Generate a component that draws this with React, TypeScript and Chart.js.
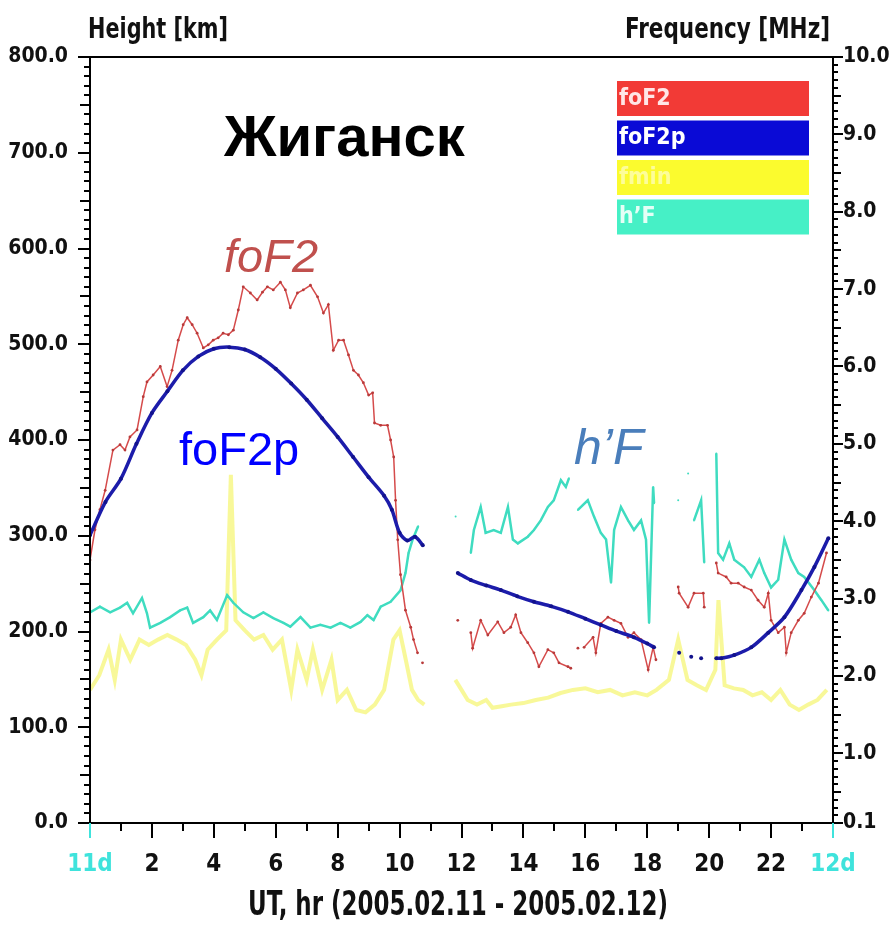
import React, { useEffect, useRef } from 'react';
import { Chart, registerables } from 'chart.js';
Chart.register(...registerables);

// ---------- data ----------
const hourTicks = [0, 2, 4, 6, 8, 10, 12, 14, 16, 18, 20, 22, 24];
const heightTicks = [0, 100, 200, 300, 400, 500, 600, 700, 800];
const freqTicks = [0.1, 1, 2, 3, 4, 5, 6, 7, 8, 9, 10];

const foF2Hours = [
  0, 0.16, 0.32, 0.49, 0.74, 0.97, 1.13, 1.29, 1.52, 1.72, 1.84, 2.04, 2.27, 2.49, 2.65, 2.85, 3.01, 3.14, 3.3, 3.46,
  3.66, 3.82, 3.98, 4.14, 4.3, 4.47, 4.63, 4.79, 4.95, 5.18, 5.4, 5.57, 5.73, 5.92, 6.15, 6.31, 6.47, 6.7, 6.89, 7.12,
  7.35, 7.54, 7.7, 7.86, 8.03, 8.19, 8.35, 8.51, 8.67, 8.83, 9.0, 9.13, 9.19, 9.39, 9.61, 9.71, 9.81, 9.87, 9.94, 10.03,
  10.19, 10.36, 10.45, 10.58, 10.66, 10.74, 11.3,
  11.88, 11.95, 12.3, 12.36, 12.62, 12.85, 13.17, 13.37, 13.59, 13.75, 13.92, 14.14, 14.34, 14.5, 14.79, 14.98, 15.15, 15.44, 15.53,
  15.65, 15.76, 15.86, 15.96, 16.25, 16.34, 16.5, 16.73, 16.93, 17.15, 17.38, 17.57, 17.8, 18.03, 18.19, 18.28, 18.6,
  19.0, 19.03, 19.32, 19.51, 19.81, 19.84, 20.0,
  20.23, 20.29, 20.55, 20.71, 20.94, 21.13, 21.36, 21.58, 21.78, 21.91, 22.0, 22.23, 22.43, 22.49, 22.65, 22.88, 23.07, 23.3, 23.53, 23.79,
];
const foF2Values = [
  3.5, 3.89, 4.15, 4.4, 4.92, 4.99, 4.92, 5.09, 5.18, 5.61, 5.8, 5.89, 6.0, 5.74, 5.95, 6.34, 6.54, 6.63, 6.54, 6.43,
  6.24, 6.28, 6.34, 6.37, 6.43, 6.41, 6.47, 6.73, 7.03, 6.95, 6.86, 6.96, 7.03, 6.99, 7.09, 6.99, 6.76, 6.95, 6.99, 7.05,
  6.9, 6.69, 6.8, 6.21, 6.34, 6.34, 6.15, 5.95, 5.89, 5.79, 5.63, 5.66, 5.27, 5.24, 5.24, 5.05, 4.83, 4.27, 3.76, 3.31,
  2.85, 2.63, 2.47, 2.3, null, 2.17, null,
  2.72, null, 2.56, 2.36, 2.72, 2.53, 2.7, 2.56, 2.63, 2.79, 2.56, 2.43, 2.3, 2.12, 2.34, 2.3, 2.17, 2.12, 2.1,
  null, 2.36, null, 2.37, 2.5, 2.3, 2.68, 2.76, 2.72, 2.68, 2.5, 2.56, 2.47, 2.08, 2.37, 2.21, null,
  3.15, 3.07, 2.89, 3.07, 3.07, 2.89, null,
  3.46, 3.33, 3.28, 3.2, 3.2, 3.15, 3.11, 2.98, 2.89, 3.07, 2.72, 2.56, 2.63, 2.3, 2.56, 2.72, 2.81, 3.02, 3.2, 3.59,
];

const foF2pHours = [
  0, 0.5, 1, 1.5, 2, 2.5, 3, 3.5, 4, 4.5, 5, 5.5, 6, 6.5, 7, 7.5, 8, 8.5, 9, 9.5, 9.75, 10, 10.25, 10.5, 10.75, 11.3,
  11.88, 12.3, 12.8, 13.27, 13.8, 14.34, 14.9, 15.44, 16.0, 16.5, 17.0, 17.57, 18.0, 18.22, 18.6,
  19.03, 19.2, 19.42, 19.6, 19.74, 19.95,
  20.23, 20.39, 20.81, 21.36, 21.91, 22.43, 22.98, 23.4, 23.85,
];
const foF2pValues = [
  3.82, 4.25, 4.55, 5.0, 5.4, 5.68, 5.95, 6.13, 6.23, 6.25, 6.22, 6.12, 5.97, 5.78, 5.57, 5.33, 5.09, 4.83, 4.57, 4.33, 4.15, 3.85, 3.75, 3.8, 3.69, null,
  3.33, 3.24, 3.17, 3.11, 3.03, 2.96, 2.9, 2.83, 2.74, 2.66, 2.58, 2.5, 2.42, 2.37, null,
  2.3, null, 2.25, null, 2.23, null,
  2.23, 2.23, 2.27, 2.37, 2.56, 2.76, 3.11, 3.41, 3.78,
];

const fminHours = [
  0, 0.3, 0.6, 0.8, 1.0, 1.3, 1.6, 1.9, 2.2, 2.5, 2.8, 3.1, 3.4, 3.6, 3.8, 4.1, 4.4, 4.55, 4.7, 5.0, 5.3, 5.6, 5.9, 6.2,
  6.5, 6.7, 7.0, 7.2, 7.5, 7.8, 8.0, 8.3, 8.6, 8.9, 9.2, 9.5, 9.8, 10.0, 10.2, 10.4, 10.6, 10.8, 11.3,
  11.8, 12.0, 12.2, 12.5, 12.8, 13.0, 13.3, 13.6, 14.0, 14.4, 14.8, 15.2, 15.6, 16.0, 16.4, 16.8, 17.2, 17.6, 18.0, 18.3,
  18.7, 19.0, 19.3, 19.6, 19.9, 20.2, 20.3, 20.5, 20.8, 21.1, 21.4, 21.7, 22.0, 22.3, 22.6, 22.9, 23.2, 23.5, 23.8,
];
const fminValues = [
  1.82, 2.01, 2.34, 1.95, 2.47, 2.21, 2.47, 2.4, 2.47, 2.53, 2.47, 2.4, 2.21, 2.01, 2.34, 2.47, 2.59, 4.6, 2.72, 2.59, 2.47, 2.53, 2.34, 2.47,
  1.82, 2.34, 1.95, 2.34, 1.82, 2.21, 1.69, 1.82, 1.56, 1.53, 1.63, 1.82, 2.47, 2.59, 2.21, 1.82, 1.69, 1.63, null,
  1.95, 1.82, 1.69, 1.63, 1.69, 1.59, 1.61, 1.63, 1.65, 1.69, 1.72, 1.78, 1.82, 1.84, 1.79, 1.82, 1.75, 1.79, 1.75, 1.82,
  1.95, 2.47, 1.95, 1.88, 1.82, 2.08, 2.98, 1.88, 1.84, 1.82, 1.75, 1.79, 1.69, 1.82, 1.63, 1.56, 1.63, 1.69, 1.82,
];

const hFHours = [
  0, 0.32, 0.65, 0.97, 1.2, 1.39, 1.68, 1.84, 1.94, 2.27, 2.59, 2.91, 3.14, 3.33, 3.66, 3.88, 4.1, 4.43, 4.63, 4.95,
  5.28, 5.6, 5.92, 6.25, 6.47, 6.8, 7.12, 7.44, 7.77, 8.09, 8.41, 8.74, 8.96, 9.16, 9.39, 9.71, 10.03, 10.19, 10.29, 10.42, 10.6, 11.2,
  11.81, 12.05, 12.3, 12.4, 12.62, 12.78, 13.04, 13.27, 13.5, 13.66, 13.82, 14.14, 14.34, 14.56, 14.79, 14.98, 15.21, 15.37, 15.47, 15.6,
  15.76, 16.08, 16.28, 16.5, 16.67, 16.83, 16.93, 17.15, 17.38, 17.57, 17.8, 17.96, 18.06, 18.19, 18.22, 18.6,
  19.0, 19.15, 19.32, 19.42, 19.51, 19.74, 19.84, 20.0,
  20.23, 20.29, 20.45, 20.65, 20.81, 21.13, 21.36, 21.62, 21.78, 22.0, 22.23, 22.43, 22.65, 22.88, 23.07, 23.4, 23.62, 23.85,
];
const hFValues = [
  220, 226, 220, 225, 230, 219, 235, 219, 204, 209, 215, 222, 225, 209, 215, 222, 212, 238, 230, 220,
  214, 220, 214, 209, 205, 215, 204, 207, 204, 209, 204, 210, 217, 212, 226, 231, 243, 261, 282, 296, 310, null,
  320, null, 282, 306, 330, 303, 306, 303, 330, 296, 292, 299, 306, 316, 330, 337, 358, 351, 360, null,
  327, 337, 320, 303, 296, 251, 306, 330, 316, 306, 316, 296, 209, 351, 334, null,
  337, null, 365, null, 316, 337, 272, null,
  386, 282, 275, 292, 275, 267, 257, 275, 261, 246, 254, 296, 275, 261, 257, 243, 233, 222,
];

// ---------- styles ----------
const NARROW = '"Liberation Sans Narrow", "DejaVu Sans Condensed", "Arial Narrow", sans-serif';
const SANS = '"Liberation Sans", Arial, sans-serif';
const AXIS_CYAN = '#3fe3dc';

const pts = (hs: number[], vs: (number | null)[]) => hs.map((h, i) => ({ x: h, y: vs[i] }));

const framePlugin = {
  id: 'frameTicks',
  afterDraw(chart: any) {
    const { ctx, chartArea } = chart;
    const { left, right, top, bottom } = chartArea;
    const sx = chart.scales.x;
    const sh = chart.scales.yHeight;
    const sf = chart.scales.yFreq;
    ctx.save();
    ctx.strokeStyle = '#000';
    ctx.lineWidth = 2;
    ctx.strokeRect(left, top, right - left, bottom - top);
    for (let v = 0; v <= 800; v += 10) {
      const y = Math.round(sh.getPixelForValue(v));
      const len = v % 100 === 0 ? 12 : v % 50 === 0 ? 10 : 6;
      ctx.beginPath();
      ctx.moveTo(left - len, y);
      ctx.lineTo(left, y);
      ctx.stroke();
    }
    for (let k = 1; k <= 100; k++) {
      const y = Math.round(sf.getPixelForValue(k / 10));
      const len = k % 10 === 0 || k === 1 ? 10 : k % 5 === 0 ? 8 : 5;
      ctx.beginPath();
      ctx.moveTo(right, y);
      ctx.lineTo(right + len, y);
      ctx.stroke();
    }
    for (let h = 0; h <= 24; h++) {
      const x = Math.round(sx.getPixelForValue(h));
      const len = h % 2 === 0 ? 15 : 8;
      ctx.strokeStyle = h === 0 || h === 24 ? AXIS_CYAN : '#000';
      ctx.beginPath();
      ctx.moveTo(x, bottom);
      ctx.lineTo(x, bottom + len);
      ctx.stroke();
    }
    ctx.restore();
  },
};

const legendColors = ['#f23a36', '#0a0ad6', '#fbfb2e', '#46f0c6'];
const legendTextColors = ['#ffe6e6', '#ffffff', '#fdfd9a', '#e4fff6'];

function fitText(ctx: CanvasRenderingContext2D, text: string, x: number, y: number, font: string, width: number, align: CanvasTextAlign) {
  ctx.save();
  ctx.font = font;
  const w = ctx.measureText(text).width;
  const s = w > 0 ? width / w : 1;
  ctx.translate(x, y);
  ctx.scale(s, 1);
  ctx.textAlign = align;
  ctx.textBaseline = 'middle';
  ctx.fillText(text, 0, 0);
  ctx.restore();
}

const textPlugin = {
  id: 'texts',
  afterDraw(chart: any) {
    const { ctx } = chart;
    ctx.save();
    ctx.fillStyle = '#111';
    fitText(ctx, 'Height [km]', 88, 30, `bold 29px ${NARROW}`, 140, 'left');
    fitText(ctx, 'Frequency [MHz]', 830, 30, `bold 29px ${NARROW}`, 205, 'right');
    fitText(ctx, 'UT, hr (2005.02.11 - 2005.02.12)', 458, 906, `bold 33px ${NARROW}`, 420, 'center');
    ctx.textBaseline = 'middle';
    ctx.textAlign = 'left';
    ctx.fillStyle = '#000';
    ctx.font = `bold 58px ${SANS}`;
    ctx.fillText('Жиганск', 224, 140);
    ctx.font = `italic 47px ${SANS}`;
    ctx.fillStyle = '#c0504d';
    ctx.fillText('foF2', 224, 259);
    ctx.font = `47px ${SANS}`;
    ctx.fillStyle = '#0000ff';
    ctx.fillText('foF2p', 179, 452);
    ctx.font = `italic 50px ${SANS}`;
    ctx.fillStyle = '#4a7ebb';
    ctx.fillText('h\u2019F', 574, 450);
    const labels = chart.data.datasets.map((d: any) => d.label);
    ctx.font = `bold 23px ${NARROW}`;
    labels.forEach((lab: string, i: number) => {
      const y0 = 81 + i * 39.5;
      ctx.fillStyle = legendColors[i];
      ctx.fillRect(617, y0, 192, 35);
      ctx.fillStyle = legendTextColors[i];
      ctx.textAlign = 'left';
      ctx.fillText(lab, 619, y0 + 18);
    });
    ctx.restore();
  },
};

export default function App() {
  const ref = useRef<HTMLCanvasElement | null>(null);
  useEffect(() => {
    if (!ref.current) return;
    const chart = new Chart(ref.current, {
      type: 'line',
      data: {
        datasets: [
          {
            label: 'foF2',
            data: pts(foF2Hours, foF2Values),
            yAxisID: 'yFreq',
            borderColor: '#d54b4b',
            backgroundColor: '#b83a3a',
            borderWidth: 1.5,
            pointRadius: 1.4,
            pointBorderWidth: 0,
            spanGaps: false,
            order: 2,
          },
          {
            label: 'foF2p',
            data: pts(foF2pHours, foF2pValues),
            yAxisID: 'yFreq',
            borderColor: '#1c1caa',
            backgroundColor: '#12128c',
            borderWidth: 3.5,
            pointRadius: 2,
            pointBorderWidth: 0,
            tension: 0.3,
            spanGaps: false,
            order: 1,
          },
          {
            label: 'fmin',
            data: pts(fminHours, fminValues),
            yAxisID: 'yFreq',
            borderColor: 'rgba(242,242,70,0.55)',
            backgroundColor: 'rgba(242,242,70,0.55)',
            borderWidth: 4,
            pointRadius: 0,
            spanGaps: false,
            order: 4,
          },
          {
            label: 'h\u2019F',
            data: pts(hFHours, hFValues),
            yAxisID: 'yHeight',
            borderColor: '#3fdcc0',
            backgroundColor: '#3fdcc0',
            borderWidth: 2.5,
            pointRadius: 1,
            pointBorderWidth: 0,
            spanGaps: false,
            order: 3,
          },
        ],
      },
      options: {
        animation: false,
        responsive: false,
        maintainAspectRatio: false,
        layout: { padding: { top: 57, left: 0, right: 0, bottom: 0 } },
        plugins: { legend: { display: false }, tooltip: { enabled: false } },
        scales: {
          x: {
            type: 'linear',
            min: 0,
            max: 24,
            afterBuildTicks: (s: any) => { s.ticks = hourTicks.map((v) => ({ value: v })); },
            afterFit: (s: any) => { s.height = 103; },
            grid: { display: false, drawTicks: false },
            border: { display: true, color: '#000', width: 2 },
            ticks: {
              autoSkip: false,
              maxRotation: 0,
              padding: 27,
              color: (c: any) => (c.tick && (c.tick.value === 0 || c.tick.value === 24) ? AXIS_CYAN : '#111'),
              font: { family: NARROW, size: 24, weight: 'bold' },
              callback: (v: any) => (v === 0 ? '11d' : v === 24 ? '12d' : String(v)),
            },
          },
          yHeight: {
            type: 'linear',
            position: 'left',
            min: 0,
            max: 800,
            afterBuildTicks: (s: any) => { s.ticks = heightTicks.map((v) => ({ value: v })); },
            afterFit: (s: any) => { s.width = 90; },
            grid: { display: false, drawTicks: false },
            border: { display: true, color: '#000', width: 2 },
            ticks: {
              padding: 22,
              color: '#111',
              font: { family: NARROW, size: 21, weight: 'bold' },
              callback: (v: any) => Number(v).toFixed(1),
            },
          },
          yFreq: {
            type: 'linear',
            position: 'right',
            min: 0.1,
            max: 10,
            afterBuildTicks: (s: any) => { s.ticks = freqTicks.map((v) => ({ value: v })); },
            afterFit: (s: any) => { s.width = 59; },
            grid: { display: false, drawTicks: false },
            border: { display: true, color: '#000', width: 2 },
            ticks: {
              padding: 10,
              color: '#111',
              font: { family: NARROW, size: 21, weight: 'bold' },
              callback: (v: any) => Number(v).toFixed(1),
            },
          },
        },
      } as any,
      plugins: [framePlugin, textPlugin],
    });
    return () => chart.destroy();
  }, []);

  return (
    <div style={{ position: 'absolute', left: 0, top: 0, width: 892, height: 926, background: '#fff' }}>
      <canvas ref={ref} width={892} height={926} style={{ width: 892, height: 926, display: 'block' }} />
    </div>
  );
}
